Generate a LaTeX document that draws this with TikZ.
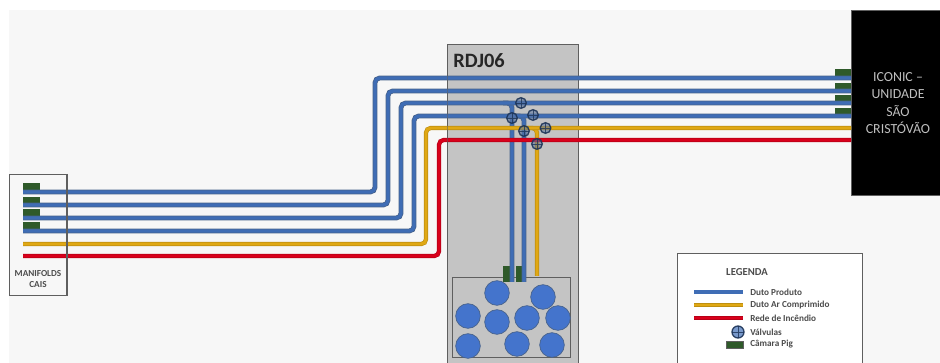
\documentclass[tikz,border=0pt]{standalone}
\usepackage{fontspec}
\setmainfont{Carlito}
\definecolor{bgc}{HTML}{F7F7F7}
\definecolor{rdj}{HTML}{C4C4C4}
\definecolor{edge}{HTML}{5F5F5F}
\definecolor{bluep}{HTML}{3F6DB5}
\definecolor{bluedk}{HTML}{2F5590}
\definecolor{yellowp}{HTML}{E0A814}
\definecolor{redp}{HTML}{D9001B}
\definecolor{pig}{HTML}{2F5A2A}
\definecolor{tank}{HTML}{4474CC}
\tikzset{
 x=0.75pt,y=-0.75pt,
 pipeblue/.style={draw=bluedk!70!gray,line width=3.6pt,rounded corners=3.5pt,
   postaction={draw=bluep,line width=2.5pt}},
 pipeyellow/.style={draw=yellowp!85!black,line width=3.2pt,rounded corners=3.5pt,
   postaction={draw=yellowp,line width=2.2pt}},
 pipered/.style={draw=redp!85!black,line width=3.2pt,rounded corners=3.5pt,
   postaction={draw=redp,line width=2.2pt}},
 pigbox/.style={fill=pig,draw=none,inner sep=0pt,minimum width=12.5pt,minimum height=6pt},
 pigup/.style={fill=pig,draw=none,inner sep=0pt,minimum width=7pt,minimum height=12pt},
 valvebox/.style={circle,draw=bluedk!60!black,fill=bluep!60!gray,fill opacity=0.55,draw opacity=0.9,line width=1pt,minimum size=8pt,inner sep=0pt,
   path picture={\draw[bluedk!60!black,line width=0.5pt,draw opacity=0.8] (path picture bounding box.west) -- (path picture bounding box.east)
     (path picture bounding box.north) -- (path picture bounding box.south);}},
 tankc/.style={circle,fill=tank,draw=bluedk!70!gray,line width=0.5pt,inner sep=0pt},
 labelt/.style={font=\fontsize{6.9pt}{8.2pt}\selectfont\bfseries,text=black!70,inner sep=0pt},
}
\begin{document}
\begin{tikzpicture}
\useasboundingbox (0,0) rectangle (940,363);
\fill[white] (0,0) rectangle (940,363);
\fill[bgc] (9,10) rectangle (940,363);
% RDJ06
\node[draw=edge,fill=rdj,line width=1pt,minimum width=98.25pt,minimum height=240pt,anchor=north west,inner sep=0pt] (rdj) at (447,44) {};
\node[anchor=west,inner sep=0pt,font=\fontsize{15.3pt}{17pt}\selectfont\bfseries,text=black!85] (rdjt) at (453,61) {RDJ06};
% tank box
\node[draw=edge,line width=1pt,minimum width=88.5pt,minimum height=60pt,anchor=north west,inner sep=0pt] (tk) at (452,277) {};
\foreach \n/\cx/\cy in {a/497/293,b/543/297,c/468/316,d/497/322,e/527/318,f/558/318,g/468/346,h/517/344,i/552/345}{
  \node[tankc,minimum size=18.5pt] (t\n) at (\cx,\cy) {};
}
% black box
\node[fill=black,draw=edge,line width=0.6pt,minimum width=67pt,minimum height=139pt,anchor=north west,inner sep=0pt] (ic) at (851,10) {};
\node[text=white!75!black,align=center,inner sep=0pt,font=\fontsize{10.4pt}{13.2pt}\selectfont] (ict) at (898,103) {ICONIC --\\UNIDADE\\SÃO\\CRISTÓVÃO};
% manifold box
\node[draw=edge,fill=bgc,line width=0.9pt,minimum width=43.5pt,minimum height=90.5pt,anchor=north west,inner sep=0pt] (mf) at (9,174) {};
\node[labelt,align=center] (mft) at (38,279) {MANIFOLDS\\CAIS};
% pig chambers
\foreach \n/\yy in {1/187,2/201,3/213.5,4/226}{ \node[pigbox] (pl\n) at (31.5,\yy) {}; }
\foreach \n/\yy in {1/73,2/87,3/99,4/112}{ \node[pigbox] (pr\n) at (843,\yy) {}; }
\node[pigup] (pa) at (508,274) {};
\node[pigup] (pb) at (521,274) {};
% anchors
\coordinate (l1) at (23,192); \coordinate (c1) at (375,192); \coordinate (d1) at (375,78); \coordinate (r1) at (851,78);
\coordinate (l2) at (23,205); \coordinate (c2) at (388,205); \coordinate (d2) at (388,91); \coordinate (r2) at (851,91);
\coordinate (l3) at (23,218); \coordinate (c3) at (401,218); \coordinate (d3) at (401,103); \coordinate (r3) at (851,103);
\coordinate (l4) at (23,231); \coordinate (c4) at (414,231); \coordinate (d4) at (414,116); \coordinate (r4) at (851,116);
\coordinate (l5) at (23,244); \coordinate (c5) at (426,244); \coordinate (d5) at (426,128); \coordinate (r5) at (851,128);
\coordinate (l6) at (23,256); \coordinate (c6) at (439,256); \coordinate (d6) at (439,140); \coordinate (r6) at (851,140);
% branches
\draw[pipeyellow] (524,128) -- (537,128) -- (537,276);
\draw[pipeblue] (503,103) -- (512,103) -- (512,282);
\draw[pipeblue] (515,116) -- (524,116) -- (524,282);
% main pipes
\draw[pipeblue] (l1) -- (c1) -- (d1) -- (r1);
\draw[pipeblue] (l2) -- (c2) -- (d2) -- (r2);
\draw[pipeblue] (l3) -- (c3) -- (d3) -- (r3);
\draw[pipeblue] (l4) -- (c4) -- (d4) -- (r4);
\draw[pipeyellow] (l5) -- (c5) -- (d5) -- (r5);
\draw[pipered] (l6) -- (c6) -- (d6) -- (r6);
% box edges showing over pipes
\draw[edge,line width=0.9pt] (67,174) -- (67,295);
\draw[edge,line width=0.7pt,opacity=0.5] (447,70) -- (447,150);
% valves
\node[valvebox] (va) at (521,103) {};
\node[valvebox] (vb) at (533,115) {};
\node[valvebox] (vc) at (545.5,128) {};
\node[valvebox] (vd) at (512,118) {};
\node[valvebox] (ve) at (524,131) {};
\node[valvebox] (vf) at (537,144) {};
% legend
\node[draw=edge,fill=white,line width=0.9pt,minimum width=138.5pt,minimum height=90pt,anchor=north west,inner sep=0pt] (lg) at (677,253) {};
\node[labelt,font=\fontsize{8pt}{9pt}\selectfont\bfseries] (lgt) at (747,272) {LEGENDA};
\coordinate (b1) at (694,292); \coordinate (b2) at (743,292);
\coordinate (y1) at (694,305); \coordinate (y2) at (743,305);
\coordinate (e1) at (694,318); \coordinate (e2) at (743,318);
\draw[pipeblue] (b1) -- (b2);
\draw[pipeyellow] (y1) -- (y2);
\draw[pipered] (e1) -- (e2);
\node[valvebox,fill opacity=1,fill=bluep!70,minimum size=9pt] (lv) at (738,332) {};
\node[fill=pig,draw=edge,line width=0.4pt,inner sep=0pt,minimum width=12.5pt,minimum height=5pt] (lp) at (735,345) {};
\node[labelt,anchor=west] (t1) at (750,292) {Duto Produto};
\node[labelt,anchor=west] (t2) at (750,305) {Duto Ar Comprimido};
\node[labelt,anchor=west] (t3) at (750,318) {Rede de Incêndio};
\node[labelt,anchor=west] (t4) at (750,332) {Válvulas};
\node[labelt,anchor=west] (t5) at (750,344) {Câmara Pig};
\end{tikzpicture}
\end{document}
